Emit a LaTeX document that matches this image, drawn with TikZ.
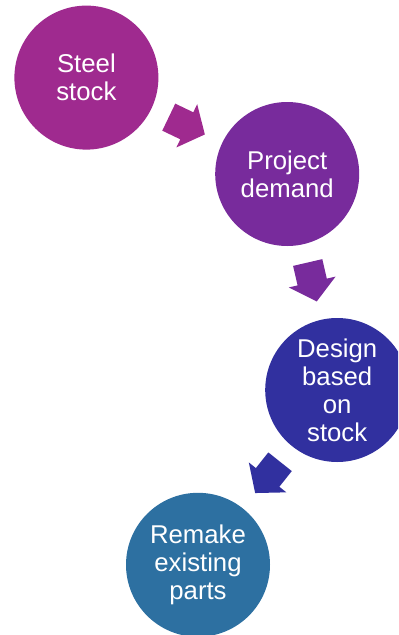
\documentclass[tikz,border=0pt]{standalone}
\usepackage{fontspec}
\setmainfont{Liberation Sans}
\usetikzlibrary{calc}
\definecolor{stockcol}{HTML}{9F2A8F}
\definecolor{demandcol}{HTML}{782B9C}
\definecolor{designcol}{HTML}{31309F}
\definecolor{remakecol}{HTML}{2D70A1}
\begin{document}
\begin{tikzpicture}[stage/.style={circle,minimum size=3.6cm,inner sep=0pt,text=white,align=center,
                        font=\fontsize{18.3}{20}\selectfont},
                    blockarrow/.pic={\path[pic actions] (-0.5,-0.375) -- (0,-0.375) -- (0,-0.6) -- (0.5,0)
                        -- (0,0.6) -- (0,0.375) -- (-0.5,0.375) -- cycle;}]
                        \useasboundingbox (0,0) rectangle (9.95,-15.875);
                        \clip (0,0) rectangle (9.95,-15.875);
                        \node[stage,fill=stockcol] (stock) at (2.16,-1.94) {Steel\\stock};
                        \node[stage,fill=demandcol] (demand) at (7.18,-4.35) {Project\\demand};
                        \node[stage,fill=designcol] (design) at (8.43,-9.75) {Design\\based\\on\\stock};
                        \node[stage,fill=remakecol] (remake) at (4.95,-14.12) {Remake\\existing\\parts};
                        \path let \p1=($(demand)-(stock)$), \n1={atan2(\y1,\x1)} in
                            ($(stock)!0.5!(demand)$) pic[rotate=\n1,fill=stockcol] {blockarrow};
                        \path let \p1=($(design)-(demand)$), \n1={atan2(\y1,\x1)} in
                            ($(demand)!0.5!(design)$) pic[rotate=\n1,fill=demandcol] {blockarrow};
                        \path let \p1=($(remake)-(design)$), \n1={atan2(\y1,\x1)} in
                            ($(design)!0.5!(remake)$) pic[rotate=\n1,fill=designcol] {blockarrow};
                    \end{tikzpicture}
\end{document}
